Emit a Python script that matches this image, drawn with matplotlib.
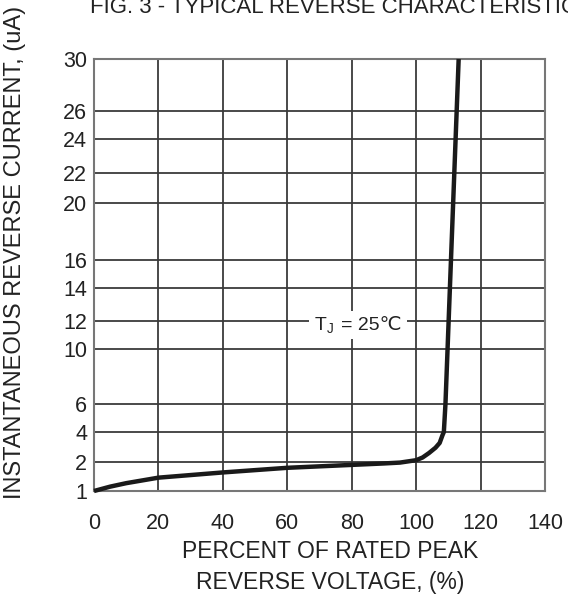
import numpy as np
import matplotlib
matplotlib.use("Agg")
import matplotlib.pyplot as plt
from matplotlib.ticker import FixedLocator, FixedFormatter

plt.rcParams['font.family'] = ['Liberation Sans', 'DejaVu Sans']
plt.rcParams['mathtext.fontset'] = 'custom'
plt.rcParams['mathtext.rm'] = 'Liberation Sans'
plt.rcParams['mathtext.it'] = 'Liberation Sans'

# Data
voltage_pct = [0, 5, 10, 20, 30, 40, 50, 60, 70, 80, 90, 95, 100, 102, 104, 106, 107.3, 108.2, 108.6, 109.1, 111.15, 113.2]
current_ua = [1.0, 1.15, 1.27, 1.46, 1.55, 1.64, 1.72, 1.80, 1.85, 1.90, 1.95, 1.98, 2.12, 2.3, 2.6, 2.95, 3.27, 3.8, 4.0, 6.0, 18.0, 30.0]

x_ticks = [0, 20, 40, 60, 80, 100, 120, 140]
y_ticks = [1, 2, 4, 6, 10, 12, 14, 16, 20, 22, 24, 26, 30]
# vertical position of each y tick on the printed chart (non-uniform printed scale)
y_tick_pos = [0, 29, 59, 87, 142, 170, 203, 231, 288, 318, 352, 380, 432]

W, H = 568, 602
fig = plt.figure(figsize=(W / 100, H / 100), dpi=100)
ax = fig.add_axes([94 / W, 1 - 491 / H, (545 - 94) / W, (491 - 59) / H])

yt = np.array(y_ticks, float)
yp = np.array(y_tick_pos, float)
def fwd(v):
    return np.interp(v, yt, yp)
def inv(p):
    return np.interp(p, yp, yt)
ax.set_yscale('function', functions=(fwd, inv))

ax.set_xlim(0, 140)
ax.set_ylim(1, 30)

ax.plot(voltage_pct, current_ua, color='#1a1a1a', lw=3.2, solid_capstyle='butt',
        solid_joinstyle='round', zorder=4, clip_on=False)

ax.xaxis.set_major_locator(FixedLocator(x_ticks))
ax.xaxis.set_major_formatter(FixedFormatter([str(t) for t in x_ticks]))
ax.yaxis.set_major_locator(FixedLocator(y_ticks))
ax.yaxis.set_major_formatter(FixedFormatter([str(t) for t in y_ticks]))
ax.yaxis.set_minor_locator(FixedLocator([]))
ax.xaxis.set_minor_locator(FixedLocator([]))

ax.grid(True, color='#3a3a3a', lw=1.3)
ax.set_axisbelow(True)
ax.tick_params(axis='both', length=0, labelsize=15.5, colors='#222222')
ax.tick_params(axis='x', pad=16)
ax.tick_params(axis='y', pad=5)
for s in ax.spines.values():
    s.set_color('#777777')
    s.set_linewidth(1.5)

# annotation: T_J = 25℃ with white background
anchor = (81.5, 11.7)
parts = [(r'T$_{\mathrm{J}}$', -16, 'right'), ('= 25℃', -11, 'left')]
for txt, dx, ha in parts:
    # white background
    ax.annotate(txt, xy=anchor, xytext=(dx, 0), textcoords='offset points',
                fontsize=14, color='white', ha=ha, va='center', zorder=5,
                bbox=dict(facecolor='white', edgecolor='none', pad=4))
for txt, dx, ha in parts:
    ax.annotate(txt, xy=anchor, xytext=(dx, 0), textcoords='offset points',
                fontsize=14, color='#222222', ha=ha, va='center', zorder=6)

fig.text(90 / W, 1 - 13 / H, 'FIG. 3 - TYPICAL REVERSE CHARACTERISTICS', fontsize=16,
         ha='left', va='baseline', color='#222222')
fig.text(330 / W, 1 - 551 / H, 'PERCENT OF RATED PEAK', fontsize=16.5,
         ha='center', va='center', color='#222222')
fig.text(330 / W, 1 - 583 / H, 'REVERSE VOLTAGE, (%)', fontsize=16.5,
         ha='center', va='center', color='#222222')
fig.text(15 / W, 1 - 252 / H, 'INSTANTANEOUS REVERSE CURRENT, (uA)', fontsize=17,
         rotation=90, ha='center', va='center', color='#222222')

fig.savefig('out.png', dpi=100)
